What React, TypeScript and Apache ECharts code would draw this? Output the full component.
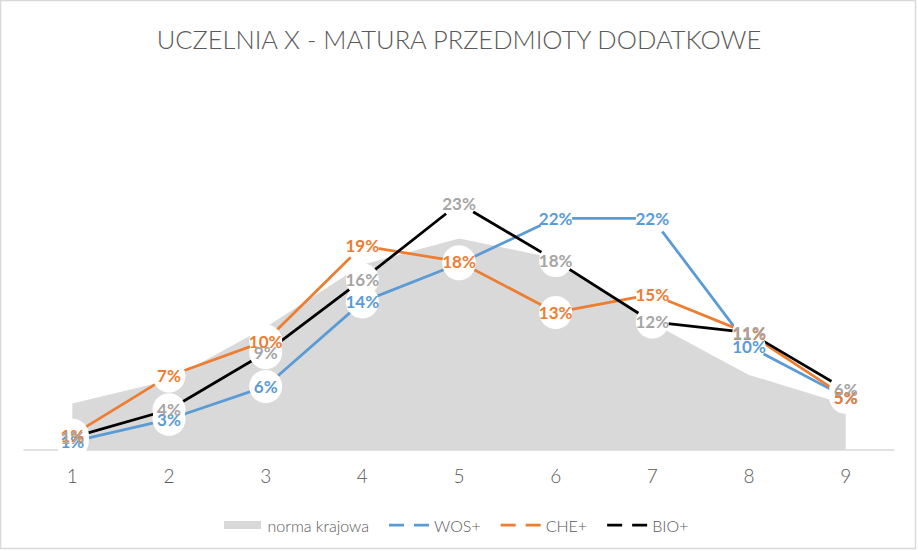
import React, { useEffect, useRef } from "react";
import * as echarts from "echarts";

const categories = ["1", "2", "3", "4", "5", "6", "7", "8", "9"];
const normaKrajowa = [4.4, 6.6, 11.6, 17.5, 20.0, 18.1, 12.0, 7.1, 4.3];
const wos = [0.8, 2.9, 6.0, 14.0, 17.6, 21.9, 21.9, 9.8, 5.0];
const che = [1.4, 7.0, 10.3, 19.3, 17.8, 13.0, 14.7, 11.0, 5.0];
const bio = [1.2, 3.8, 9.2, 16.1, 23.3, 17.9, 12.1, 11.1, 5.7];
const seriesNames = ["norma krajowa", "WOS+", "CHE+", "BIO+"];
const lineColors = ["#5B9BD5", "#ED7D31", "#000000"];
const labelColors = ["#5B9BD5", "#ED7D31", "#A5A5A5"];
const title = "UCZELNIA X - MATURA PRZEDMIOTY DODATKOWE";

const FONT = "Lato, 'Open Sans', sans-serif";
const DASH_ICON =
  "path://M0,0h0.01v0.01h-0.01z M0,5.75h15v2.75h-15z M25,5.75h15v2.75h-15z M39.99,13.99h0.01v0.01h-0.01z";
const RECT_ICON =
  "path://M0,0h0.01v0.01h-0.01z M0,3h37v8h-37z M36.99,13.99h0.01v0.01h-0.01z";

function lineSeries(name: string, data: number[], lineColor: string, labelColor: string, hideIdx: number[] = []) {
  return {
    name,
    type: "line",
    data: data.map((v, i) =>
      hideIdx.includes(i) ? { value: v, label: { show: false } } : v
    ),
    symbol: "circle",
    symbolSize: 33,
    showAllSymbol: true,
    itemStyle: { color: "#ffffff", borderWidth: 0 },
    lineStyle: { color: lineColor, width: 2.75 },
    label: {
      show: true,
      position: "inside",
      formatter: (p: any) => `${Math.round(p.value)}%`,
      color: labelColor,
      fontFamily: FONT,
      fontWeight: "bold",
      fontSize: 17,
    },
    emphasis: { disabled: true },
    z: 3,
  };
}

export default function App() {
  const ref = useRef<HTMLDivElement>(null);
  useEffect(() => {
    if (!ref.current) return;
    const chart = echarts.init(ref.current, undefined, { renderer: "svg" });
    chart.setOption({
      animation: false,
      backgroundColor: "#ffffff",
      title: {
        text: title,
        left: "center",
        top: 21,
        textStyle: {
          fontFamily: FONT,
          fontWeight: 300,
          fontSize: 25.5,
          color: "#595959",
        },
      },
      graphic: [
        {
          type: "rect",
          shape: { x: 0.5, y: 0.5, width: 915, height: 548 },
          style: { fill: "none", stroke: "#D9D9D9", lineWidth: 1.5 },
          silent: true,
        },
      ],
      legend: {
        left: 219,
        top: 512,
        itemWidth: 40,
        itemHeight: 14,
        itemGap: 20,
        textStyle: { fontFamily: FONT, fontSize: 16, color: "#595959", fontWeight: 300 },
        data: [
          { name: seriesNames[0], icon: RECT_ICON, itemStyle: { color: "#D9D9D9" } },
          { name: seriesNames[1], icon: DASH_ICON, itemStyle: { color: lineColors[0] } },
          { name: seriesNames[2], icon: DASH_ICON, itemStyle: { color: lineColors[1] } },
          { name: seriesNames[3], icon: DASH_ICON, itemStyle: { color: lineColors[2] } },
        ],
      },
      grid: { left: 24, right: 24, top: 185.5, bottom: 101 },
      xAxis: {
        type: "category",
        data: categories,
        boundaryGap: true,
        axisLine: { show: true, lineStyle: { color: "#D9D9D9", width: 1.5 } },
        axisTick: { show: false },
        axisLabel: {
          margin: 16,
          fontFamily: FONT,
          fontWeight: 300,
          fontSize: 19,
          color: "#595959",
        },
        splitLine: { show: false },
      },
      yAxis: {
        type: "value",
        min: 0,
        max: 25,
        show: false,
        splitLine: { show: false },
      },
      series: [
        {
          name: seriesNames[0],
          type: "line",
          data: normaKrajowa,
          symbol: "none",
          itemStyle: { color: "#D9D9D9" },
          lineStyle: { width: 0, color: "#D9D9D9" },
          areaStyle: { color: "#D9D9D9", opacity: 1 },
          emphasis: { disabled: true },
          z: 1,
        },
        lineSeries(seriesNames[1], wos, lineColors[0], labelColors[0], [4]),
        lineSeries(seriesNames[2], che, lineColors[1], labelColors[1]),
        lineSeries(seriesNames[3], bio, lineColors[2], labelColors[2]),
      ],
    });
    return () => chart.dispose();
  }, []);
  return (
    <div
      ref={ref}
      style={{ position: "fixed", left: 0, top: 0, width: 918, height: 551 }}
    />
  );
}
